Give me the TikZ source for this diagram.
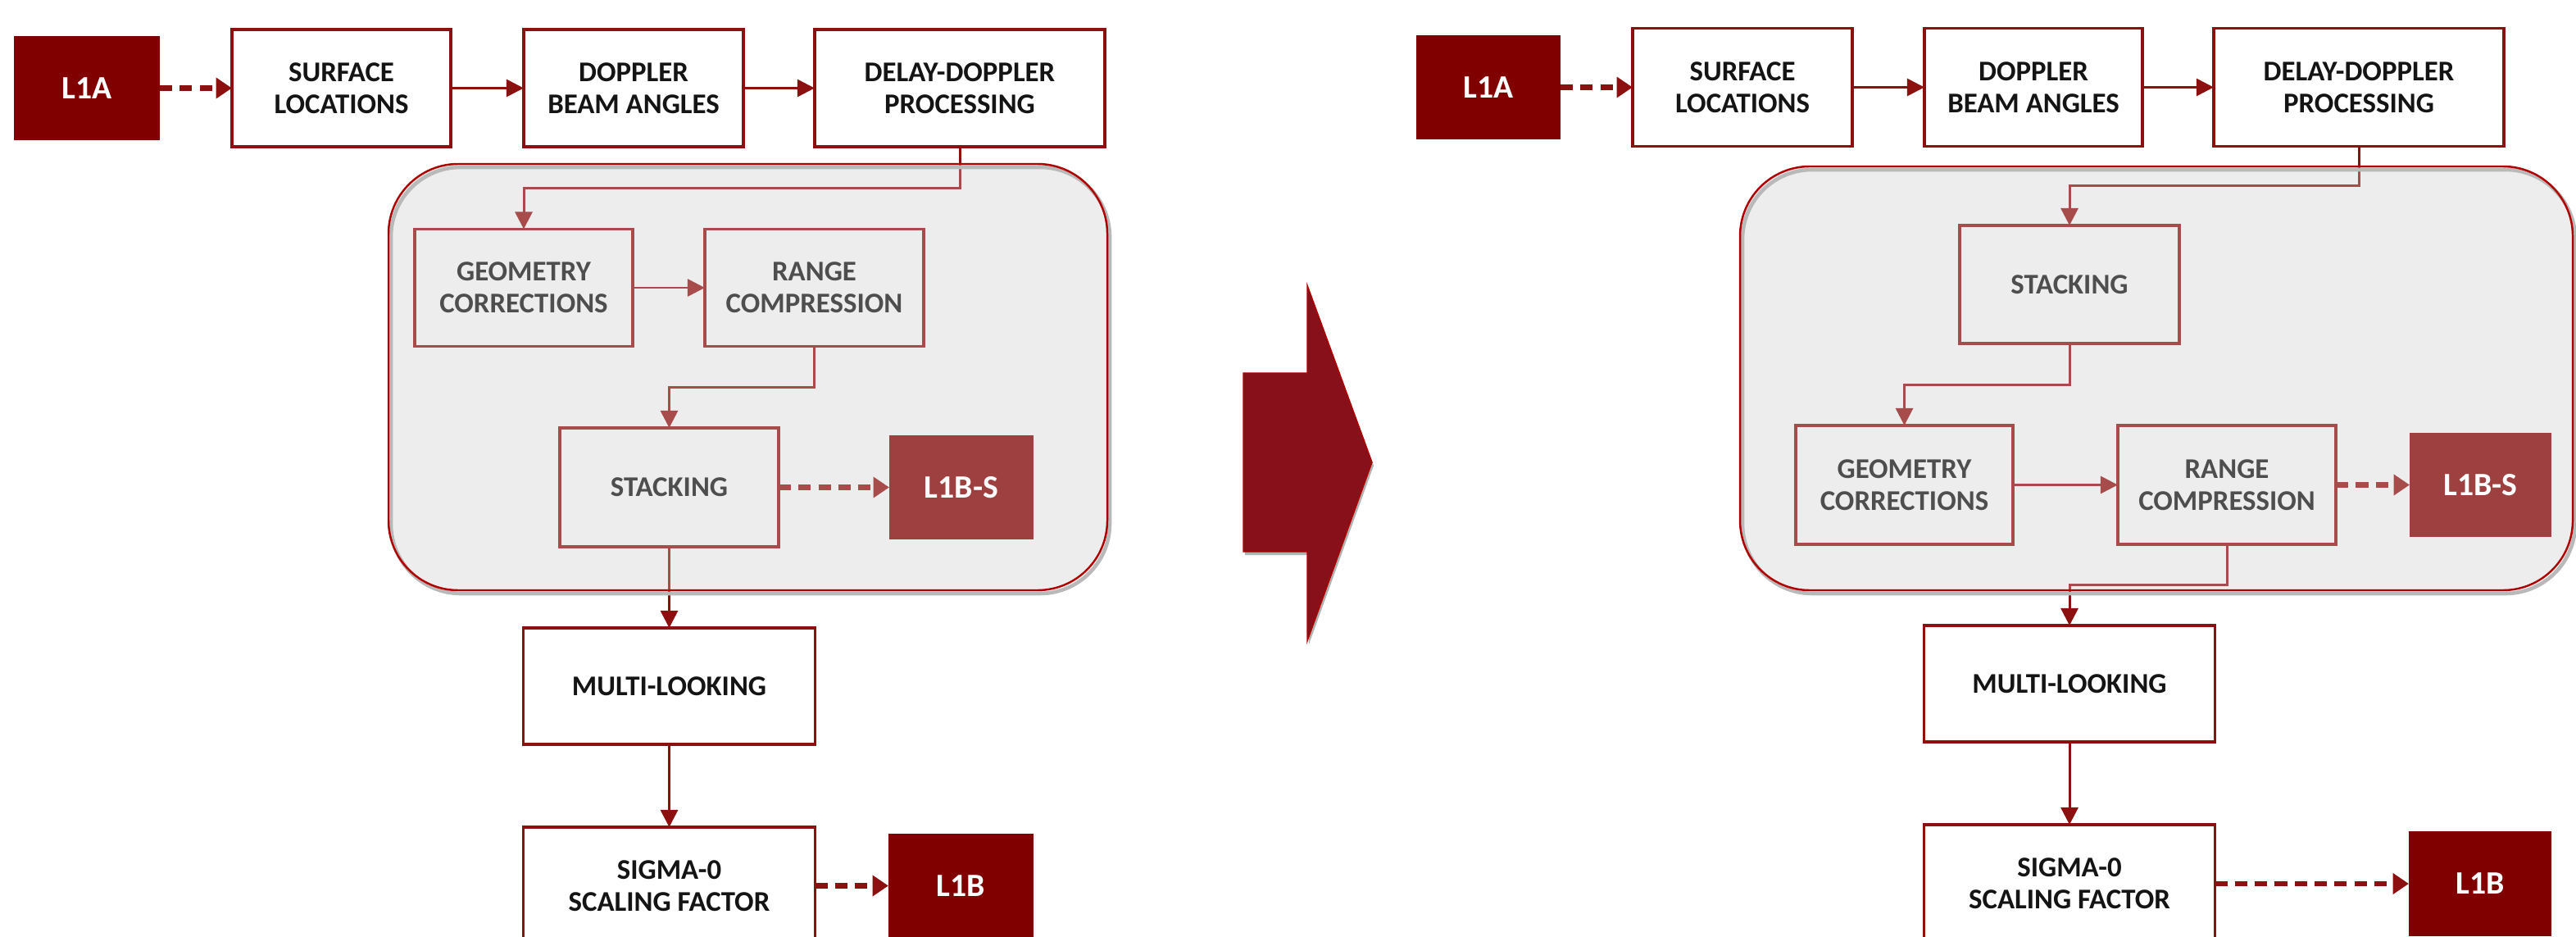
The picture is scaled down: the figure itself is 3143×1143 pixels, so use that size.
\documentclass[tikz,border=0pt]{standalone}
\usepackage{fontspec}
\setmainfont{Carlito}
\usetikzlibrary{arrows.meta}
\definecolor{dred}{HTML}{800000}
\definecolor{bord}{HTML}{8C1010}
\definecolor{txt}{HTML}{141414}
\definecolor{panelgray}{HTML}{E7E7E7}
\definecolor{panelline}{HTML}{B00000}
\definecolor{bigred}{HTML}{87101A}
\tikzset{
  procbox/.style={draw=bord, line width=1pt, fill=white, text=txt,
    font=\bfseries\fontsize{9.9}{11}\selectfont, align=center,
    inner sep=0pt, outer sep=0pt},
  innerbox/.style={procbox, fill=none},
  levelbox/.style={fill=dred, draw=none, text=white,
    font=\bfseries\fontsize{11.3}{13}\selectfont, inner sep=0pt, outer sep=0pt},
  conn/.style={draw=bord, line width=0.85pt, -{Triangle[length=6pt,width=6pt]}},
  dconn/.style={draw=bord, line width=1.9pt, dash pattern=on 4.3pt off 2.6pt,
    -{Triangle[length=5.5pt,width=7pt]}},
  panelfill/.style={fill=panelgray, rounded corners=0.85cm},
  panelveil/.style={fill=white, fill opacity=0.25, rounded corners=0.85cm},
  panelshadow/.style={draw=gray!55, line width=1.3pt, rounded corners=0.85cm},
  panelborder/.style={draw=panelline, line width=0.7pt, rounded corners=0.85cm},
}
\begin{document}
\begin{tikzpicture}[x=0.01cm, y=-0.01cm]
\useasboundingbox (0,0) rectangle (3143,1143);
\clip (0,0) rectangle (3143,1143);
\fill[white] (0,0) rectangle (3143,1143);

% ---------------- panels (background) ----------------
\path[panelfill] (474,200) rectangle (1351,720);
\path[panelfill] (2123,203) rectangle (3139,720);

% ---------------- left diagram ----------------
\node[levelbox, minimum width=1.78cm, minimum height=1.27cm] (la1) at (106,107.5) {L1A};
\node[procbox, minimum width=2.67cm, minimum height=1.43cm] (lsurf) at (416.5,107.5) {SURFACE\\LOCATIONS};
\node[procbox, minimum width=2.68cm, minimum height=1.43cm] (ldop) at (773,107.5) {DOPPLER\\BEAM ANGLES};
\node[procbox, minimum width=3.54cm, minimum height=1.43cm] (ldd) at (1171,107.5) {DELAY-DOPPLER\\PROCESSING};
\node[innerbox, minimum width=2.66cm, minimum height=1.43cm] (lgeo) at (639,351) {GEOMETRY\\CORRECTIONS};
\node[innerbox, minimum width=2.67cm, minimum height=1.43cm] (lrng) at (993.5,351) {RANGE\\COMPRESSION};
\node[innerbox, minimum width=2.67cm, minimum height=1.45cm] (lstk) at (816.5,594.5) {STACKING};
\node[levelbox, minimum width=1.76cm, minimum height=1.26cm] (llbs) at (1173,594.5) {L1B-S};
\node[procbox, minimum width=3.56cm, minimum height=1.42cm] (lml) at (816.5,837) {MULTI-LOOKING};
\node[procbox, minimum width=3.56cm, minimum height=1.43cm] (lsig) at (816.5,1080.5) {SIGMA-0\\SCALING FACTOR};
\node[levelbox, minimum width=1.77cm, minimum height=1.27cm] (llb) at (1172.5,1080.5) {L1B};

\draw[dconn] (la1) -- (lsurf);
\draw[conn] (lsurf) -- (ldop);
\draw[conn] (ldop) -- (ldd);
\draw[conn] (ldd.south) -- ++(0,50) -| (lgeo.north);
\draw[conn] (lgeo) -- (lrng);
\draw[conn] (lrng.south) -- ++(0,50) -| (lstk.north);
\draw[dconn] (lstk) -- (llbs);
\draw[conn] (lstk) -- (lml);
\draw[conn] (lml) -- (lsig);
\draw[dconn] (lsig) -- (llb);

% ---------------- big arrow ----------------
\fill[gray!60] (1519,459) -- (1597,459) -- (1597,352) -- (1676,568) -- (1597,786) -- (1597,677) -- (1519,677) -- cycle;
\path[fill=bigred, draw=panelline, line width=0.4pt] (1517,455) -- (1595,455) -- (1595,348) -- (1674,564) -- (1595,782) -- (1595,673) -- (1517,673) -- cycle;

% ---------------- right diagram ----------------
\node[levelbox, minimum width=1.76cm, minimum height=1.27cm] (ra1) at (1816,106.5) {L1A};
\node[procbox, minimum width=2.68cm, minimum height=1.44cm] (rsurf) at (2126,106.5) {SURFACE\\LOCATIONS};
\node[procbox, minimum width=2.66cm, minimum height=1.44cm] (rdop) at (2481,106.5) {DOPPLER\\BEAM ANGLES};
\node[procbox, minimum width=3.54cm, minimum height=1.44cm] (rdd) at (2878,106.5) {DELAY-DOPPLER\\PROCESSING};
\node[innerbox, minimum width=2.68cm, minimum height=1.44cm] (rstk) at (2525,347) {STACKING};
\node[innerbox, minimum width=2.65cm, minimum height=1.45cm] (rgeo) at (2323.5,591.5) {GEOMETRY\\CORRECTIONS};
\node[innerbox, minimum width=2.66cm, minimum height=1.45cm] (rrng) at (2717,591.5) {RANGE\\COMPRESSION};
\node[levelbox, minimum width=1.73cm, minimum height=1.27cm] (rlbs) at (3026.5,591.5) {L1B-S};
\node[procbox, minimum width=3.55cm, minimum height=1.42cm] (rml) at (2525,834) {MULTI-LOOKING};
\node[procbox, minimum width=3.55cm, minimum height=1.44cm] (rsig) at (2525,1078) {SIGMA-0\\SCALING FACTOR};
\node[levelbox, minimum width=1.74cm, minimum height=1.27cm] (rlb) at (3026,1078) {L1B};

\draw[dconn] (ra1) -- (rsurf);
\draw[conn] (rsurf) -- (rdop);
\draw[conn] (rdop) -- (rdd);
\draw[conn] (rdd.south) -- ++(0,48) -| (rstk.north);
\draw[conn] (rstk.south) -- ++(0,50) -| (rgeo.north);
\draw[conn] (rgeo) -- (rrng);
\draw[dconn] (rrng) -- (rlbs);
\draw[conn] (rrng.south) -- ++(0,49) -| (rml.north);
\draw[conn] (rml) -- (rsig);
\draw[dconn] (rsig) -- (rlb);

% ---------------- panel veil and borders ----------------
\path[panelveil] (474,200) rectangle (1351,720);
\path[panelveil] (2123,203) rectangle (3139,720);
\path[panelshadow] (477,204) rectangle (1354,724);
\path[panelshadow] (2126,207) rectangle (3142,724);
\path[panelborder] (474,200) rectangle (1351,720);
\path[panelborder] (2123,203) rectangle (3139,720);
\end{tikzpicture}
\end{document}
